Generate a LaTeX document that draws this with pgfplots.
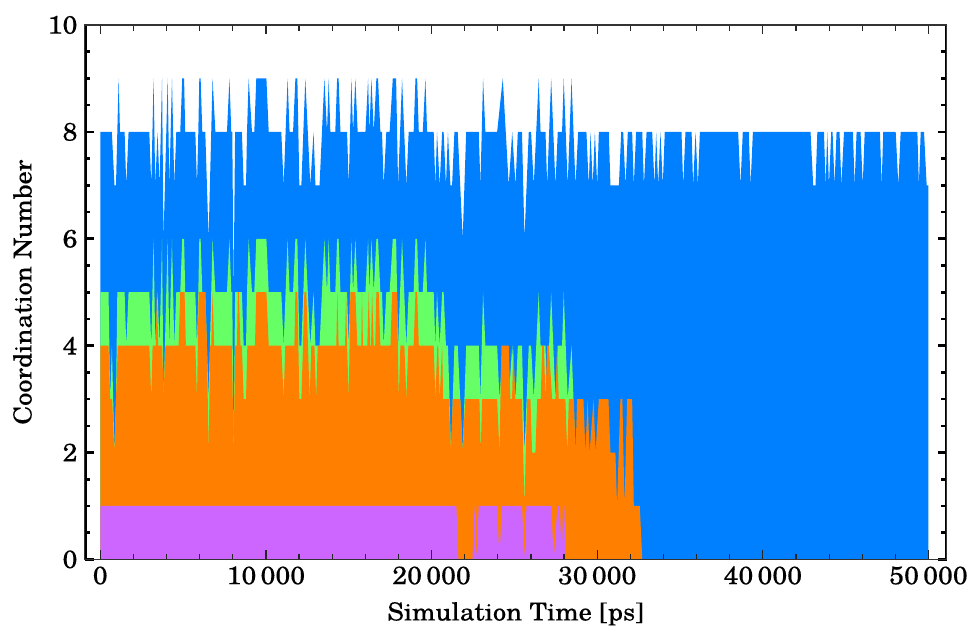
\documentclass[border=0pt]{standalone}
\usepackage{fontspec}
\setmainfont{TeX Gyre Schola}[FakeStretch=1.06, FakeBold=0.15]
\usepackage{pgfplots}
\pgfplotsset{compat=1.18}
\usetikzlibrary{calc}
\definecolor{cblue}{RGB}{0,128,255}
\definecolor{cgreen}{RGB}{102,255,102}
\definecolor{corange}{RGB}{255,128,0}
\definecolor{cpurple}{RGB}{204,102,255}
\begin{document}
\begin{tikzpicture}
\begin{axis}[
  scale only axis, width=431pt, height=267.15pt,
  xmin=-950, xmax=51100, ymin=0, ymax=10,
  xtick={0,10000,20000,30000,40000,50000}, minor x tick num=4,
  ytick={0,2,4,6,8,10}, minor y tick num=3,
  scaled x ticks=false,
  tick align=inside,
  major tick length=4.5pt, minor tick length=2.8pt,
  xtick style={line width=0.6pt, black!85},
  ytick style={line width=1.3pt, black},
  axis line style={line width=0.6pt, black!80},
  axis on top,
  tick label style={font=\fontsize{12.6}{15}\selectfont},
  /pgf/number format/assume math mode=true,
  /pgf/number format/1000 sep={\,},
  xlabel={Simulation Time [ps]},
  ylabel={Coordination Number},
  label style={font=\fontsize{12.4}{15}\selectfont},
  xlabel style={at={(rel axis cs:0.5,0)}, anchor=base, yshift=-30.5pt},
  ylabel style={at={($(rel axis cs:0,0.5)+(-31pt,0pt)$)}, anchor=center, rotate=0},
]
\addplot[fill=cblue, draw=none] coordinates {
(0,8)(700,8)(860,7)(950,7)(1030,8)(1110,9)(1190,8)(1470,8)(1570,7)(1710,8)(2960,8)(3080,7)(3220,9)(3320,7)(3460,8)(3580,7)(3730,9)(3820,6)(4070,9)(4170,7)(4330,9)(4470,7)(4590,8)(4830,8)(4950,9)(5060,9)(5130,8)(5740,8)(5840,7)(5920,8)(5980,9)(6060,9)(6160,8)(6340,8)(6540,6)(6780,9)(6950,8)(7650,8)(7800,9)(7910,8)(7970,8)(8050,5)(8140,8)(8550,8)(8660,7)(8800,7)(8860,8)(8960,9)(9160,8)(9300,8)(9420,9)(10030,9)(10170,8)(10930,8)(11070,7)(11310,9)(11430,8)(11640,8)(11780,9)(11900,9)(12020,7)(12140,7)(12380,9)(12680,7)(12880,8)(12990,7)(13240,7)(13530,9)(13690,8)(13790,9)(13890,8)(14190,8)(14300,9)(14390,9)(14500,8)(14900,8)(15000,7)(15160,9)(15260,8)(15400,9)(15540,8)(16010,8)(16170,9)(16250,8)(16370,9)(16510,8)(16670,9)(16770,9)(16910,8)(17010,8)(17110,7)(17270,8)(17470,8)(17660,9)(17860,9)(17980,7)(18220,9)(18480,7)(18620,8)(18920,8)(19030,9)(19130,9)(19230,8)(19470,8)(19630,9)(19730,8)(20130,8)(20230,7)(20330,8)(20490,7)(20640,8)(20730,8)(20870,7)(20990,8)(21140,7)(21240,7)(21380,8)(21580,8)(21880,6)(22090,8)(22850,8)(22950,7)(23110,9)(23250,8)(23960,8)(24300,9)(24660,7)(24870,8)(25070,7)(25210,8)(25460,8)(25610,6)(25870,8)(26010,8)(26170,7)(26470,9)(26580,8)(26880,8)(26980,7)(27220,9)(27480,7)(27620,8)(27880,8)(27980,9)(28220,7)(28450,9)(28690,7)(28850,8)(29350,8)(29490,7)(29600,8)(29730,7)(29860,8)(30000,7)(30100,8)(30700,8)(30800,7)(31310,7)(31450,8)(31570,8)(31710,7)(31850,8)(32110,8)(32210,7)(32350,8)(32720,8)(32820,7)(32980,8)(33320,8)(33460,7)(33560,8)(33680,7)(33820,8)(33960,7)(34080,8)(35090,8)(35190,7)(35330,8)(35700,8)(35790,7)(35940,8)(36080,7)(36200,8)(38510,8)(38650,7)(38790,8)(39150,8)(39260,7)(39400,8)(42880,8)(43040,7)(43180,7)(43290,8)(43690,8)(43790,7)(43890,8)(43990,7)(44130,8)(44210,8)(44330,7)(44450,8)(44630,8)(44740,7)(44900,8)(45440,8)(45540,7)(45660,8)(45900,8)(46030,7)(46150,8)(47070,8)(47170,7)(47270,8)(48020,8)(48180,7)(48320,8)(49330,8)(49420,7)(49530,8)(49730,8)(49890,7)(50000,7)
} \closedcycle;
\addplot[fill=cgreen, draw=none] coordinates {
(0,5)(500,5)(600,3)(700,4)(780,3)(860,2)(950,3)(1030,5)(1470,5)(1570,4)(1710,5)(2960,5)(3080,4)(3220,6)(3320,4)(3460,5)(3580,4)(3730,6)(3820,3)(4070,6)(4170,4)(4330,6)(4470,4)(4590,5)(4830,5)(4950,6)(5060,6)(5130,5)(5740,5)(5840,4)(5920,5)(5980,6)(6060,6)(6160,5)(6340,5)(6540,3)(6780,6)(6950,5)(7650,5)(7800,6)(7910,5)(7970,5)(8050,2)(8140,5)(8550,5)(8660,4)(8800,4)(8860,5)(8960,6)(9160,5)(9300,5)(9420,6)(10030,6)(10170,5)(10930,5)(11070,4)(11310,6)(11430,5)(11640,5)(11780,6)(11900,6)(12020,4)(12140,4)(12380,6)(12680,4)(12880,5)(12990,4)(13240,4)(13530,6)(13690,5)(13790,6)(13890,5)(14190,5)(14300,6)(14390,6)(14500,5)(14900,5)(15000,4)(15160,6)(15260,5)(15400,6)(15540,5)(16010,5)(16170,6)(16250,5)(16370,6)(16510,5)(16670,6)(16770,6)(16910,5)(17010,5)(17110,4)(17270,5)(17470,5)(17660,6)(17860,6)(17980,4)(18220,6)(18480,4)(18620,5)(18920,5)(19030,6)(19130,6)(19230,5)(19470,5)(19630,6)(19730,5)(20130,5)(20230,4)(20330,5)(20490,4)(20640,5)(20730,5)(20870,4)(20990,4)(21180,2)(21280,3)(21380,4)(21580,4)(21880,2)(22090,4)(22850,4)(22950,3)(23110,5)(23250,4)(23960,4)(24100,3)(24300,4)(24660,3)(24870,4)(25070,3)(25210,4)(25460,4)(25610,2)(25870,4)(26010,4)(26170,3)(26470,5)(26580,4)(26880,4)(26980,3)(27220,5)(27480,3)(27620,4)(27880,4)(27980,5)(28220,3)(28450,4)(28690,2)(28790,0)
} \closedcycle;
\addplot[fill=corange, draw=none] coordinates {
(0,4)(500,4)(600,3)(720,3)(850,2)(950,3)(1060,4)(2960,4)(3080,3)(3160,4)(3350,4)(3420,5)(3500,4)(3740,4)(3820,3)(3930,4)(4730,4)(4830,5)(5090,5)(5170,4)(5740,4)(5840,3)(5940,5)(6340,5)(6440,4)(6540,2)(6640,4)(6700,4)(6780,5)(6880,4)(7950,4)(8050,2)(8150,4)(8250,4)(8310,5)(8370,5)(8460,4)(8550,4)(8660,3)(8800,3)(8880,4)(9340,4)(9420,5)(10030,5)(10170,4)(10930,4)(11070,3)(11170,4)(11720,4)(11780,5)(11900,5)(12020,3)(12140,3)(12240,4)(12320,5)(12440,5)(12540,4)(12640,3)(12740,4)(12930,4)(13030,3)(13130,4)(14250,4)(14310,5)(14390,4)(14780,4)(14840,5)(14900,4)(15000,3)(15100,5)(15400,5)(15520,4)(15760,4)(15800,5)(15860,4)(16120,4)(16210,5)(16300,4)(16350,4)(16410,5)(16510,4)(16600,4)(16670,5)(16810,5)(16910,4)(17520,4)(17620,5)(17910,5)(18020,3)(18120,4)(18360,4)(18480,3)(18600,4)(18920,4)(19030,5)(19130,5)(19230,4)(20130,4)(20230,3)(20350,4)(20400,4)(20490,3)(20640,4)(20700,3)(21040,3)(21180,2)(21280,3)(21740,3)(21880,2)(22030,3)(22890,3)(22970,2)(23050,3)(23960,3)(24100,2)(24220,4)(24660,4)(24760,3)(24860,3)(24940,4)(25060,3)(25460,3)(25610,1)(25770,3)(25970,3)(26070,2)(26270,2)(26380,3)(26590,3)(26680,4)(26780,4)(26880,3)(26980,4)(27080,4)(27280,3)(27480,3)(27580,4)(27680,3)(28080,3)(28190,2)(28290,3)(28590,3)(28690,2)(28790,3)(29170,3)(29290,2)(29420,3)(29540,2)(29780,3)(29900,2)(30100,3)(30680,3)(30800,2)(31100,2)(31200,1)(31400,3)(31520,3)(31650,1)(31810,3)(32110,3)(32210,1)(32570,1)(32720,0)
} \closedcycle;
\addplot[fill=cpurple, draw=none] coordinates {
(0,1)(21500,1)(21620,0)(22470,0)(22590,1)(22710,0)(22850,1)(23960,1)(24100,0)(24240,1)(25460,1)(25610,0)(25730,1)(27220,1)(27380,0)(27600,1)(27740,1)(27860,0)(27940,1)(28020,1)(28090,0)
} \closedcycle;
\draw[line width=2.1pt, black] (rel axis cs:0,0) -- (rel axis cs:0,1);
\draw[line width=2.1pt, black] (rel axis cs:1,0) -- (rel axis cs:1,1);
\coordinate (bl) at (rel axis cs:0,0);
\coordinate (tr) at (rel axis cs:1,1);
\end{axis}
\pgfresetboundingbox
\path[use as bounding box] ($(bl)+(-42.25pt,-33.35pt)$) rectangle ($(tr)+(13.15pt,12.5pt)$);
\end{tikzpicture}
\end{document}
